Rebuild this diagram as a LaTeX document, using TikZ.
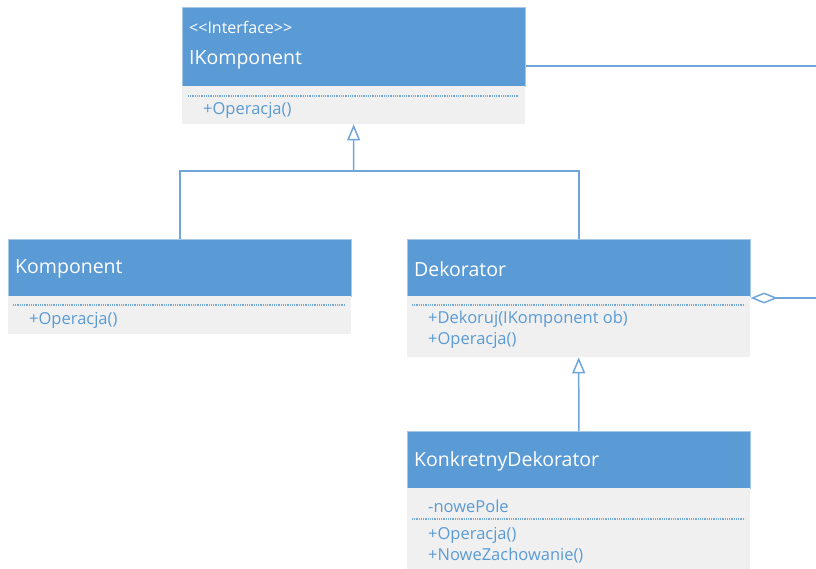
\documentclass[tikz,border=0pt]{standalone}
\usepackage{fontspec}
\setmainfont{Open Sans}
\usetikzlibrary{arrows.meta}
\definecolor{umlblue}{HTML}{5B9BD5}
\definecolor{umlline}{HTML}{6FA5DA}
\definecolor{umlgray}{HTML}{F0F0F0}

\begin{document}
\begin{tikzpicture}[x=1pt,y=-1pt]
  \tikzstyle{head}=[rectangle, fill=umlblue, draw=umlblue!55!white, line width=0.6pt, anchor=north west, inner sep=0pt, minimum width=343pt]
  \tikzstyle{body}=[rectangle, fill=umlgray, anchor=north west, inner sep=0pt, minimum width=343pt]
  \tikzstyle{title}=[anchor=west, text=white, font=\fontsize{19.5}{22}\selectfont, inner sep=0pt]
  \tikzstyle{stereo}=[anchor=west, text=white, font=\fontsize{16}{18}\selectfont, inner sep=0pt]
  \tikzstyle{member}=[anchor=west, text=umlblue, font=\fontsize{16.5}{18}\selectfont, inner sep=0pt]
  \tikzstyle{sep}=[umlblue!85!white, line width=1.2pt, dash pattern=on 1pt off 0.8pt]
  \tikzstyle{link}=[umlline, line width=1.5pt]
  \useasboundingbox (0,0) rectangle (816,569);

  % IKomponent
  \node[head, minimum height=79pt] (ikh) at (182,7) {};
  \node[body, minimum height=38pt] (ikb) at (182,86) {};
  \node[stereo] (iks) at (189,27) {<{}<Interface>{}>};
  \node[title] (ikt) at (189,60) {IKomponent};
  \draw[sep] (188,96) -- (519,96);
  \node[member] (ikm) at (203,110) {+Operacja()};

  % Komponent
  \node[head, minimum height=57pt] (kh) at (8,239) {};
  \node[body, minimum height=38pt] (kb) at (8,296) {};
  \node[title] (kt) at (15,269) {Komponent};
  \draw[sep] (13,305) -- (345,305);
  \node[member] (km) at (29,320) {+Operacja()};

  % Dekorator
  \node[head, minimum height=57pt] (dh) at (407,239) {};
  \node[body, minimum height=61pt] (db) at (407,296) {};
  \node[title] (dt) at (414,269) {Dekorator};
  \draw[sep] (412,305) -- (745,305);
  \node[member] (dm1) at (428,319) {+Dekoruj(IKomponent ob)};
  \node[member] (dm2) at (428,340) {+Operacja()};

  % KonkretnyDekorator
  \node[head, minimum height=57pt] (kdh) at (407,431) {};
  \node[body, minimum height=81pt] (kdb) at (407,488) {};
  \node[title] (kdt) at (414,461) {KonkretnyDekorator};
  \node[member] (kdf) at (428,506) {-nowePole};
  \draw[sep] (412,519) -- (745,519);
  \node[member] (kdm1) at (428,535) {+Operacja()};
  \node[member] (kdm2) at (428,556) {+NoweZachowanie()};

  % connectors
  \coordinate (j) at (353.5,171);
  \coordinate (rt) at (816,66);
  \coordinate (rd) at (816,298);
  \draw[link] (kh.north) |- (j) -| (dh.north);
  \draw[link, -{Triangle[open, length=16pt, width=13pt]}] (j) -- (ikb.south);
  \draw[link, -{Triangle[open, length=16pt, width=13pt]}] (kdh.north) -- (db.south);
  \draw[link] (ikh.east |- rt) -- (rt);
  \draw[link, -{Diamond[open, length=27pt, width=11pt]}] (rd) -- (dh.east |- rd);
\end{tikzpicture}
\end{document}
